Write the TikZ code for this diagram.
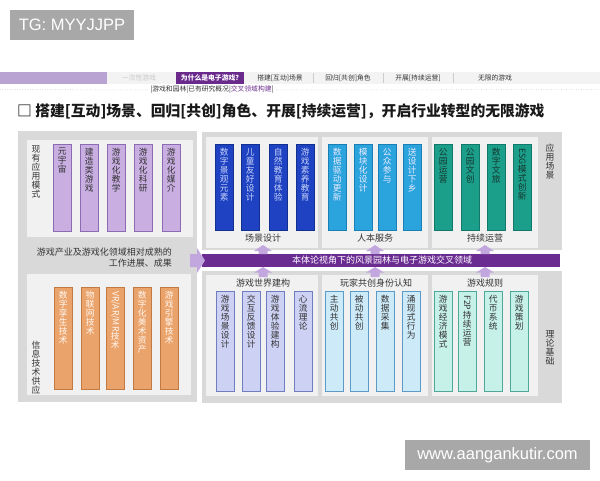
\documentclass[tikz,border=0pt]{standalone}
\usepackage{fontspec}
\setmainfont{Noto Sans CJK SC}
\newfontfamily\latfont{Liberation Sans}
\usepackage{graphicx}
\makeatletter
\newdimen\vsskip \vsskip=9pt
\newcommand\vsrot[1]{\rotatebox{-90}{#1}}
\newcommand\vstack[1]{\expandafter\vs@go\expandafter{#1}}
\newcommand\vs@go[1]{\def\vs@acc{}\@tfor\vs@c:=#1\do{\expandafter\vs@add\expandafter{\vs@c}}%
  \vbox{\baselineskip=\vsskip\lineskiplimit=0pt\lineskip=1pt\halign{\hfil##\hfil\cr\vs@acc}}}
\def\vs@add#1{\expandafter\def\expandafter\vs@acc\expandafter{\vs@acc#1\cr}}
\makeatother
\definecolor{navlav}{HTML}{B9A3D3}
\definecolor{navpur}{HTML}{6A2A8C}
\definecolor{navbg}{HTML}{F3F3F3}
\definecolor{bandc}{HTML}{6B2C92}
\definecolor{arrc}{HTML}{C2A6DE}
\definecolor{outerc}{HTML}{D9D9D9}
\definecolor{innerc}{HTML}{F1F1F1}
\definecolor{pfill}{HTML}{C9AEE2}\definecolor{pdraw}{HTML}{8C6BB2}
\definecolor{ofill}{HTML}{EBA36C}\definecolor{odraw}{HTML}{C27A42}
\definecolor{bfill}{HTML}{1E42C2}\definecolor{bdraw}{HTML}{12308F}\definecolor{btxt}{HTML}{C6D2F8}
\definecolor{lbfill}{HTML}{2BA3DD}\definecolor{lbdraw}{HTML}{1A7FB5}
\definecolor{tfill}{HTML}{1B9E8A}\definecolor{tdraw}{HTML}{12786A}\definecolor{ttxt}{HTML}{16372F}
\definecolor{lvfill}{HTML}{CDD1F3}\definecolor{lvdraw}{HTML}{6F7CC0}
\definecolor{cyfill}{HTML}{CDEAF8}\definecolor{cydraw}{HTML}{5C9BC8}
\definecolor{aqfill}{HTML}{C6F1E9}\definecolor{aqdraw}{HTML}{4FA897}
\definecolor{wmc}{HTML}{A8A8A8}
\definecolor{txtc}{HTML}{333333}
\definecolor{sepc}{HTML}{CCCCCC}
\begin{document}
\begin{tikzpicture}[x=1pt,y=-1pt,
  wmbox/.style={fill=wmc, text=white, inner sep=0pt, font=\latfont\fontsize{16.5}{16.5}\selectfont},
  navtxt/.style={inner sep=0pt, text=txtc, font=\fontsize{6.8}{6.8}\selectfont},
  lbl/.style={inner sep=0pt, text=txtc, font=\fontsize{9}{9}\selectfont},
  vlbl/.style={anchor=north, inner sep=0pt, text=txtc, font=\fontsize{8.8}{9}\selectfont},
  barbase/.style={anchor=north west, minimum width=18pt, inner sep=0pt, line width=0.6pt},
  pbar/.style={barbase, minimum height=87pt, fill=pfill, draw=pdraw},
  obar/.style={barbase, minimum height=102pt, fill=ofill, draw=odraw},
  bbar/.style={barbase, minimum height=86pt, fill=bfill, draw=bdraw},
  lbbar/.style={barbase, minimum height=86pt, fill=lbfill, draw=lbdraw},
  tbar/.style={barbase, minimum height=86pt, fill=tfill, draw=tdraw},
  lvbar/.style={barbase, minimum height=100pt, fill=lvfill, draw=lvdraw},
  cybar/.style={barbase, minimum height=100pt, fill=cyfill, draw=cydraw},
  aqbar/.style={barbase, minimum height=100pt, fill=aqfill, draw=aqdraw},
  btext/.style={anchor=north, inner sep=0pt, font=\fontsize{8.7}{9}\selectfont},
  upar/.style={fill=arrc}
]
\useasboundingbox (0,0) rectangle (600,480);
% watermarks
\node[wmbox, minimum width=124pt, minimum height=30pt] (tg) at (72,25) {TG: MYYJJPP};
\node[wmbox, minimum width=185pt, minimum height=30pt] (www) at (497.5,455) {www.aangankutir.com};
% navigation bar
\fill[navlav] (0,72) rectangle (107,84);
\fill[navbg] (107,72) rectangle (600,84);
\foreach \sx in {313,383,453}{\draw[sepc, line width=0.6pt] (\sx,73) -- (\sx,83);}
\node[navtxt, text=black!22] (n0) at (139,78) {一次性游戏};
\node[fill=navpur, minimum width=68pt, minimum height=12pt, inner sep=0pt, text=white,
      font=\bfseries\fontsize{6.8}{6.8}\selectfont] (n1) at (210,78) {为什么是电子游戏?};
\node[navtxt] (n2) at (280,78) {搭建[互动]场景};
\node[navtxt] (n3) at (348,78) {回归[共创]角色};
\node[navtxt] (n4) at (418,78) {开展[持续运营]};
\node[navtxt] (n5) at (495,78) {无限的游戏};
\node[navtxt, font=\fontsize{6.8}{6.8}\selectfont] (n6) at (212,90)
  {|游戏和园林|已有研究概况|\textcolor{navpur}{交叉领域构建}|};
\draw[black!30, dotted, line width=0.5pt] (0,89.5) -- (n6.west);
\draw[black!30, dotted, line width=0.5pt] (n6.east) -- (600,89.5);
% title
\node[anchor=west, inner sep=0pt, text=black!90, font=\bfseries\fontsize{14.8}{15}\selectfont] (title) at (17,111)
  {□ 搭建[互动]场景、回归[共创]角色、开展[持续运营]，开启行业转型的无限游戏};
% left panel
\fill[outerc] (18,131) rectangle (197,402);
\fill[innerc] (27,140) rectangle (193,237);
\fill[innerc] (27,274) rectangle (191,395);
\node[vlbl] (lbl1) at (36,145) {\vstack{现有应用模式}};
\node[vlbl] (lbl2) at (36,341) {\vstack{信息技术供应}};
\node[lbl, anchor=east] (lt1) at (172,252) {游戏产业及游戏化领域相对成熟的};
\node[lbl, anchor=east] (lt2) at (172,263.5) {工作进展、成果};
\foreach \x/\t [count=\i] in {53/{元宇宙},80/{建造类游戏},107/{游戏化教学},134/{游戏化科研},162/{游戏化媒介}}{
  \node[pbar] (pa\i) at (\x,144) {};
  \node[btext, text=black!80] (pat\i) at ([yshift=-4pt]pa\i.north) {\vstack{\t}};
}
\foreach \x/\t [count=\i] in {54/{数字孪生技术},81/{物联网技术},106/{{\vsrot{VR/AR/MR}}技术},133/{数字化美术资产},160/{游戏引擎技术}}{
  \node[obar] (ob\i) at (\x,287) {};
  \node[btext, text=white!95!orange] (obt\i) at ([yshift=-4pt]ob\i.north) {\vstack{\t}};
}
% upper right panel
\fill[outerc] (202,132) rectangle (562,250);
\fill[innerc] (206,137) rectangle (318,248);
\fill[innerc] (322,137) rectangle (428,248);
\fill[innerc] (432,137) rectangle (538,248);
\node[vlbl] (lbl3) at (550,144) {\vstack{应用场景}};
\node[lbl] (s1) at (263,238.5) {场景设计};
\node[lbl] (s2) at (375,238.5) {人本服务};
\node[lbl] (s3) at (485,238.5) {持续运营};
\foreach \x/\t [count=\i] in {215/{数字景观元素},241/{儿童友好设计},269/{自然教育体验},296/{游戏素养教育}}{
  \node[bbar] (bb\i) at (\x,144) {};
  \node[btext, text=btxt] (bbt\i) at ([yshift=-4pt]bb\i.north) {\vstack{\t}};
}
\foreach \x/\t [count=\i] in {328/{数据驱动更新},354/{模块化设计},378/{公众参与},403/{送设计下乡}}{
  \node[lbbar] (lb\i) at (\x,144) {};
  \node[btext, text=white!92!blue] (lbt\i) at ([yshift=-4pt]lb\i.north) {\vstack{\t}};
}
\foreach \x/\t [count=\i] in {434/{公园运营},461/{公园文创},487/{数字文旅},513/{{\vsrot{ESG}}模式创新}}{
  \node[tbar] (tb\i) at (\x,144) {};
  \node[btext, text=ttxt] (tbt\i) at ([yshift=-4pt]tb\i.north) {\vstack{\t}};
}
% lower right panel
\fill[outerc] (202,271) rectangle (562,403);
\fill[innerc] (206,275) rectangle (318,396);
\fill[innerc] (322,275) rectangle (428,396);
\fill[innerc] (432,275) rectangle (538,396);
\node[vlbl] (lbl4) at (550,330) {\vstack{理论基础}};
\node[lbl] (g1) at (263,283.5) {游戏世界建构};
\node[lbl] (g2) at (376,283.5) {玩家共创身份认知};
\node[lbl] (g3) at (485,283.5) {游戏规则};
\foreach \x/\t [count=\i] in {216/{游戏场景设计},242/{交互反馈设计},266/{游戏体验建构},294/{心流理论}}{
  \node[lvbar] (lv\i) at (\x,291) {};
  \node[btext, text=black!80] (lvt\i) at ([yshift=-4pt]lv\i.north) {\vstack{\t}};
}
\foreach \x/\t [count=\i] in {325/{主动共创},350/{被动共创},376/{数据采集},402/{涌现式行为}}{
  \node[cybar] (cy\i) at (\x,291) {};
  \node[btext, text=black!80] (cyt\i) at ([yshift=-4pt]cy\i.north) {\vstack{\t}};
}
\foreach \x/\t [count=\i] in {434/{游戏经济模式},458/{{\vsrot{F2P}}持续运营},484/{代币系统},510/{游戏策划}}{
  \node[aqbar] (aq\i) at (\x,291) {};
  \node[btext, text=black!80] (aqt\i) at ([yshift=-4pt]aq\i.north) {\vstack{\t}};
}
% band
\node[fill=bandc, anchor=north west, minimum width=358pt, minimum height=13pt, inner sep=0pt] (band) at (202,254) {};
\node[inner sep=0pt, text=white, font=\fontsize{9}{9}\selectfont] (bandt) at (382,260.5) {本体论视角下的风景园林与电子游戏交叉领域};
% big arrow
\fill[arrc] (190,254) -- (197,254) -- (197,248) -- (205,260.5) -- (197,273) -- (197,267) -- (190,267) -- cycle;
% small up arrows
\foreach \ax in {263,375,485}{
  \fill[arrc] (\ax-4.5,254) -- (\ax-4.5,251) -- (\ax-9,251) -- (\ax,245) -- (\ax+9,251) -- (\ax+4.5,251) -- (\ax+4.5,254) -- cycle;
  \fill[arrc] (\ax-4.5,277) -- (\ax-4.5,272.5) -- (\ax-9,272.5) -- (\ax,267) -- (\ax+9,272.5) -- (\ax+4.5,272.5) -- (\ax+4.5,277) -- cycle;
}
\end{tikzpicture}
\end{document}
